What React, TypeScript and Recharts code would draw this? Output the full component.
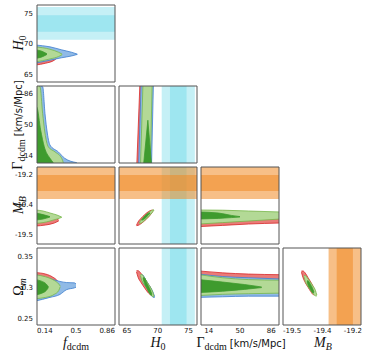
import { ComposedChart, Area, XAxis, YAxis, ReferenceArea } from "recharts"

// parameter ranges and ticks
const fDomain = [0.05, 0.95]
const h0Domain = [63.7, 76.4]
const gammaDomain = [5, 95]
const mbDomain = [-19.565, -19.18]
const omDomain = [0.239, 0.3645]

const fTicks = [0.14, 0.5, 0.86]
const h0Ticks = [65, 70, 75]
const gammaTicks = [14, 50, 86]
const mbTicks = [-19.52, -19.37, -19.22]
const omTicks = [0.25, 0.3, 0.35]

// external priors, 68% and 95%
const h0Band68 = [72.0, 74.7]
const h0Band95 = [70.65, 76.05]
const mbBand68 = [-19.3, -19.22]
const mbBand95 = [-19.34, -19.18]

// contours: [x, lo, hi]
const fH0Red95 = [[0.03, 66.5, 69.6], [0.15, 66.8, 69.3], [0.25, 67.3, 68.8], [0.3, 67.9, 68.2]]
const fH0Blue95 = [[0.03, 66.8, 69.8], [0.2, 67.3, 69.5], [0.335, 67.7, 69.0], [0.45, 68.0, 68.6], [0.515, 68.25, 68.3]]
const fH0Green95 = [[0.03, 67.0, 69.5], [0.2, 67.5, 69.1], [0.3, 67.9, 68.6], [0.34, 68.2, 68.3]]
const fH0Green68 = [[0.03, 67.6, 69.0], [0.1, 67.8, 68.8], [0.165, 68.25, 68.35]]

const fGammaBlue95 = [[0.03, 3, 97], [0.116, 3, 94], [0.142, 3, 63], [0.169, 3, 40], [0.2, 3, 26], [0.296, 3, 18], [0.37, 3, 10.5], [0.51, 3, 5.4]]
const fGammaGreen95 = [[0.03, 3, 97], [0.085, 3, 94], [0.115, 3, 63], [0.142, 3, 40], [0.18, 3, 24], [0.258, 3, 18], [0.335, 3, 10.5], [0.354, 3, 5.4]]
const fGammaGreen68 = [[0.03, 3, 72], [0.05, 3, 70], [0.092, 3, 43.6], [0.134, 3, 24], [0.2, 3, 10.5], [0.238, 3, 5.4]]

const h0GammaRed95 = [[66.6, 3, 3], [67.1, 3, 97], [67.6, 3, 97], [68.0, 97, 97]]
const h0GammaBlue95 = [[66.9, 3, 3], [67.3, 3, 97], [69.0, 3, 97], [69.3, 97, 97]]
const h0GammaGreen95 = [[67.2, 3, 3], [67.6, 3, 97], [68.8, 3, 97], [69.1, 97, 97]]
const h0GammaGreen68 = [[67.7, 3, 3], [68.4, 3, 55], [69.0, 3, 3]]

const fMbRed95 = [[0.03, -19.475, -19.4], [0.15, -19.47, -19.41], [0.25, -19.46, -19.43], [0.3, -19.45, -19.445]]
const fMbGreen95 = [[0.03, -19.462, -19.395], [0.12, -19.458, -19.4], [0.2, -19.45, -19.41], [0.28, -19.44, -19.42], [0.335, -19.432, -19.43]]
const fMbGreen68 = [[0.03, -19.445, -19.41], [0.12, -19.44, -19.418], [0.2, -19.43, -19.428]]

const h0MbRed95 = [[66.55, -19.473, -19.471], [66.8, -19.472, -19.455], [67.3, -19.463, -19.436], [67.9, -19.448, -19.418], [68.5, -19.43, -19.403], [69.0, -19.411, -19.396], [69.25, -19.398, -19.396]]
const h0MbGreen95 = [[67.0, -19.461, -19.459], [67.3, -19.46, -19.445], [67.8, -19.449, -19.428], [68.3, -19.435, -19.413], [68.8, -19.419, -19.401], [69.2, -19.404, -19.395], [69.4, -19.396, -19.394]]
const h0MbGreen68 = [[67.4, -19.446, -19.444], [67.7, -19.443, -19.432], [68.1, -19.432, -19.419], [68.5, -19.42, -19.411], [68.75, -19.411, -19.409]]

const gammaMbRed95 = [[3, -19.478, -19.4], [30, -19.472, -19.4], [60, -19.465, -19.405], [97, -19.46, -19.41]]
const gammaMbGreen95 = [[3, -19.465, -19.395], [30, -19.458, -19.396], [60, -19.45, -19.4], [97, -19.44, -19.405]]
const gammaMbGreen68 = [[3, -19.44, -19.405], [25, -19.437, -19.41], [40, -19.433, -19.422], [50, -19.43, -19.428]]

const fOmRed95 = [[0.03, 0.283, 0.3245], [0.15, 0.286, 0.322], [0.23, 0.29, 0.3172], [0.29, 0.298, 0.31], [0.31, 0.303, 0.305]]
const fOmBlue95 = [[0.03, 0.278, 0.321], [0.2, 0.284, 0.3145], [0.315, 0.2888, 0.31], [0.39, 0.2965, 0.3082], [0.48, 0.2995, 0.3077], [0.5, 0.3005, 0.306]]
const fOmGreen95 = [[0.03, 0.282, 0.321], [0.15, 0.284, 0.3175], [0.25, 0.289, 0.3115], [0.3, 0.295, 0.306], [0.318, 0.3015, 0.3025]]
const fOmGreen68 = [[0.03, 0.288, 0.313], [0.1, 0.2905, 0.3105], [0.155, 0.295, 0.306], [0.182, 0.3, 0.3012]]

const h0OmRed95 = [[66.55, 0.3255, 0.3275], [66.8, 0.317, 0.3275], [67.3, 0.308, 0.323], [67.9, 0.299, 0.3145], [68.5, 0.291, 0.305], [68.95, 0.2875, 0.297], [69.2, 0.2872, 0.2885]]
const h0OmBlue95 = [[67.3, 0.319, 0.3205], [67.55, 0.31, 0.3205], [68.0, 0.3025, 0.3135], [68.5, 0.2945, 0.3055], [69.0, 0.2865, 0.2975], [69.3, 0.284, 0.291], [69.5, 0.2838, 0.285]]
const h0OmGreen95 = [[67.2, 0.3195, 0.3212], [67.45, 0.311, 0.321], [67.9, 0.304, 0.3148], [68.4, 0.296, 0.307], [68.9, 0.288, 0.299], [69.2, 0.2855, 0.2925], [69.4, 0.285, 0.2862]]
const h0OmGreen68 = [[67.6, 0.3148, 0.3162], [67.85, 0.307, 0.3158], [68.25, 0.299, 0.307], [68.65, 0.291, 0.2995], [68.9, 0.2878, 0.2935], [69.05, 0.2875, 0.2888]]

const gammaOmRed95 = [[3, 0.288, 0.327], [30, 0.29, 0.324], [60, 0.292, 0.322], [97, 0.293, 0.321]]
const gammaOmBlue95 = [[3, 0.284, 0.322], [30, 0.285, 0.318], [60, 0.286, 0.316], [97, 0.286, 0.314]]
const gammaOmGreen95 = [[3, 0.287, 0.321], [30, 0.289, 0.316], [60, 0.29, 0.313], [97, 0.291, 0.312]]
const gammaOmGreen68 = [[3, 0.292, 0.313], [30, 0.294, 0.309], [55, 0.297, 0.305], [75, 0.3, 0.301]]

const mbOmRed95 = [[-19.474, 0.325, 0.327], [-19.466, 0.316, 0.327], [-19.455, 0.308, 0.3236], [-19.442, 0.301, 0.3166], [-19.428, 0.2935, 0.309], [-19.415, 0.2885, 0.301], [-19.407, 0.2885, 0.294], [-19.404, 0.2888, 0.2898]]
const mbOmGreen95 = [[-19.462, 0.3178, 0.3195], [-19.455, 0.31, 0.3195], [-19.445, 0.3035, 0.316], [-19.432, 0.297, 0.31], [-19.418, 0.2905, 0.303], [-19.405, 0.2865, 0.2955], [-19.398, 0.2862, 0.2878]]
const mbOmGreen68 = [[-19.446, 0.3098, 0.3112], [-19.44, 0.303, 0.3108], [-19.43, 0.2975, 0.3055], [-19.42, 0.292, 0.2995], [-19.412, 0.2912, 0.2925]]

const colX = [37, 119, 201, 283]
const rowY = [5, 86, 167, 248]
const PW = 78
const PH = 77
const M = 3 // spare room round each frame

const RED = ["#ea7b78", "#d62728"]
const BLUE = ["#90bae6", "#3f7fce"]
const GREEN = ["#b3d996", "#76b84a"]
const DGREEN = ["#3f9b2e", "#3f9b2e"]
const CYAN = "#4fd0e5"
const ORANGE = "#f08a24"
const FRAME = "#555"

const tickStyle = { fill: "#111", fontSize: 7, fontFamily: "DejaVu Sans" }
const frameLine = { stroke: FRAME, strokeWidth: 1 }
const mbFmt = (v: number) => v.toFixed(1)
const range = (d: any) => [d.lo, d.hi]

function contour(rows: number[][], col: string[], curve: any = "monotone") {
  const data = rows.map(([x, lo, hi]) => ({ x, lo, hi }))
  return (
    <Area data={data} dataKey={range} xAxisId="b" yAxisId="l" type={curve} fill={col[0]} fillOpacity={1}
      stroke={col[1]} strokeWidth={0.8} dot={false} activeDot={false} isAnimationActive={false} />
  )
}

const hBand = (r: number[], color: string, op: number) => (
  <ReferenceArea xAxisId="b" yAxisId="l" y1={r[0]} y2={r[1]} fill={color} fillOpacity={op} stroke="none" ifOverflow="hidden" />
)
const vBand = (r: number[], color: string, op: number) => (
  <ReferenceArea xAxisId="b" yAxisId="l" x1={r[0]} x2={r[1]} fill={color} fillOpacity={op} stroke="none" ifOverflow="hidden" />
)

function Panel({ col, row, xDomain, yDomain, xTicks, yTicks, xFmt, yFmt, children }: any) {
  const showX = row === 3
  const showY = col === 0
  const lw = showY ? 37 - M : 1
  const bh = showX ? 28 : 1
  const common = { type: "number" as const, allowDataOverflow: true, interval: 0 as const }
  const frame = { ...common, tickSize: 0, tickLine: false, axisLine: frameLine }
  const inner = { ...common, mirror: true, tickSize: 3, tickLine: frameLine, axisLine: false, tick: false }
  return (
    <div style={{ position: "absolute", left: colX[col] - lw - M, top: rowY[row] - 1 - M }}>
      <ComposedChart width={PW + lw + 1 + 2 * M} height={PH + bh + 1 + 2 * M} margin={{ top: M, right: M, bottom: M, left: M }}>
        {children}
        <XAxis xAxisId="b" dataKey="x" orientation="bottom" domain={xDomain} ticks={xTicks} {...frame}
          height={bh} tickMargin={3} tick={showX ? tickStyle : false} tickFormatter={xFmt} />
        <XAxis xAxisId="t" dataKey="x" orientation="top" domain={xDomain} ticks={xTicks} {...frame} height={1} tick={false} />
        <YAxis yAxisId="l" orientation="left" domain={yDomain} ticks={yTicks} {...frame}
          width={lw} tickMargin={4} tick={showY ? tickStyle : false} tickFormatter={yFmt} />
        <YAxis yAxisId="r" orientation="right" domain={yDomain} ticks={yTicks} {...frame} width={1} tick={false} />
        <XAxis xAxisId="bm" dataKey="x" orientation="bottom" domain={xDomain} ticks={xTicks} {...inner} height={1} />
        <XAxis xAxisId="tm" dataKey="x" orientation="top" domain={xDomain} ticks={xTicks} {...inner} height={1} />
        <YAxis yAxisId="lm" orientation="left" domain={yDomain} ticks={yTicks} {...inner} width={1} />
        <YAxis yAxisId="rm" orientation="right" domain={yDomain} ticks={yTicks} {...inner} width={1} />
      </ComposedChart>
    </div>
  )
}

const Sub = ({ children, italic }: any) => (
  <span style={{ fontSize: 10, position: "relative", top: 3, fontStyle: italic ? "italic" : "normal" }}>{children}</span>
)

function Title({ x, y, rotate, children }: any) {
  return (
    <div style={{
      position: "absolute", left: x, top: y, whiteSpace: "nowrap",
      transform: `translate(-50%, -50%)${rotate ? " rotate(-90deg)" : ""}`,
      fontFamily: '"Liberation Serif", serif', fontSize: 14, lineHeight: "12px", color: "#111",
    }}>{children}</div>
  )
}

const unit = <span style={{ fontFamily: "DejaVu Sans", fontSize: 10 }}> [km/s/Mpc]</span>
const gammaTitle = <>Γ<Sub>dcdm</Sub>{unit}</>
const h0Title = <><i>H</i><Sub>0</Sub></>
const mbTitle = <><i>M</i><Sub italic>B</Sub></>
const omTitle = <>Ω<Sub italic>m</Sub></>
const fTitle = <><i>f</i><Sub>dcdm</Sub></>

export default function App() {
  return (
    <div style={{ position: "absolute", left: 0, top: 0, width: 367, height: 354, background: "#fff" }}>
      <Panel col={0} row={0} xDomain={fDomain} yDomain={h0Domain} xTicks={fTicks} yTicks={h0Ticks}>
        {hBand(h0Band95, CYAN, 0.33)}
        {hBand(h0Band68, CYAN, 0.33)}
        {contour(fH0Red95, RED)}
        {contour(fH0Blue95, BLUE)}
        {contour(fH0Green95, GREEN)}
        {contour(fH0Green68, DGREEN)}
      </Panel>

      <Panel col={0} row={1} xDomain={fDomain} yDomain={gammaDomain} xTicks={fTicks} yTicks={gammaTicks}>
        {contour(fGammaBlue95, BLUE)}
        {contour(fGammaGreen95, GREEN)}
        {contour(fGammaGreen68, DGREEN)}
      </Panel>
      <Panel col={1} row={1} xDomain={h0Domain} yDomain={gammaDomain} xTicks={h0Ticks} yTicks={gammaTicks}>
        {vBand(h0Band95, CYAN, 0.33)}
        {vBand(h0Band68, CYAN, 0.33)}
        {contour(h0GammaRed95, RED, "linear")}
        {contour(h0GammaBlue95, BLUE, "linear")}
        {contour(h0GammaGreen95, GREEN, "linear")}
        {contour(h0GammaGreen68, DGREEN, "linear")}
      </Panel>

      <Panel col={0} row={2} xDomain={fDomain} yDomain={mbDomain} xTicks={fTicks} yTicks={mbTicks} yFmt={mbFmt}>
        {hBand(mbBand95, ORANGE, 0.55)}
        {hBand(mbBand68, ORANGE, 0.55)}
        {contour(fMbRed95, RED)}
        {contour(fMbGreen95, GREEN)}
        {contour(fMbGreen68, DGREEN)}
      </Panel>
      <Panel col={1} row={2} xDomain={h0Domain} yDomain={mbDomain} xTicks={h0Ticks} yTicks={mbTicks}>
        {vBand(h0Band95, CYAN, 0.33)}
        {vBand(h0Band68, CYAN, 0.33)}
        {hBand(mbBand95, ORANGE, 0.55)}
        {hBand(mbBand68, ORANGE, 0.55)}
        {contour(h0MbRed95, RED)}
        {contour(h0MbGreen95, GREEN)}
        {contour(h0MbGreen68, DGREEN)}
      </Panel>
      <Panel col={2} row={2} xDomain={gammaDomain} yDomain={mbDomain} xTicks={gammaTicks} yTicks={mbTicks}>
        {hBand(mbBand95, ORANGE, 0.55)}
        {hBand(mbBand68, ORANGE, 0.55)}
        {contour(gammaMbRed95, RED)}
        {contour(gammaMbGreen95, GREEN)}
        {contour(gammaMbGreen68, DGREEN)}
      </Panel>

      <Panel col={0} row={3} xDomain={fDomain} yDomain={omDomain} xTicks={fTicks} yTicks={omTicks}>
        {contour(fOmRed95, RED)}
        {contour(fOmBlue95, BLUE)}
        {contour(fOmGreen95, GREEN)}
        {contour(fOmGreen68, DGREEN)}
      </Panel>
      <Panel col={1} row={3} xDomain={h0Domain} yDomain={omDomain} xTicks={h0Ticks} yTicks={omTicks}>
        {vBand(h0Band95, CYAN, 0.33)}
        {vBand(h0Band68, CYAN, 0.33)}
        {contour(h0OmRed95, RED)}
        {contour(h0OmBlue95, BLUE)}
        {contour(h0OmGreen95, GREEN)}
        {contour(h0OmGreen68, DGREEN)}
      </Panel>
      <Panel col={2} row={3} xDomain={gammaDomain} yDomain={omDomain} xTicks={gammaTicks} yTicks={omTicks}>
        {contour(gammaOmRed95, RED)}
        {contour(gammaOmBlue95, BLUE)}
        {contour(gammaOmGreen95, GREEN)}
        {contour(gammaOmGreen68, DGREEN)}
      </Panel>
      <Panel col={3} row={3} xDomain={mbDomain} yDomain={omDomain} xTicks={mbTicks} yTicks={omTicks} xFmt={mbFmt}>
        {vBand(mbBand95, ORANGE, 0.55)}
        {vBand(mbBand68, ORANGE, 0.55)}
        {contour(mbOmRed95, RED)}
        {contour(mbOmGreen95, GREEN)}
        {contour(mbOmGreen68, DGREEN)}
      </Panel>

      <Title x={19} y={43} rotate>{h0Title}</Title>
      <Title x={18} y={125} rotate>{gammaTitle}</Title>
      <Title x={19} y={205} rotate>{mbTitle}</Title>
      <Title x={19} y={287} rotate>{omTitle}</Title>

      <Title x={76} y={343}>{fTitle}</Title>
      <Title x={158} y={343}>{h0Title}</Title>
      <Title x={241} y={343}>{gammaTitle}</Title>
      <Title x={323} y={343}>{mbTitle}</Title>
    </div>
  )
}
